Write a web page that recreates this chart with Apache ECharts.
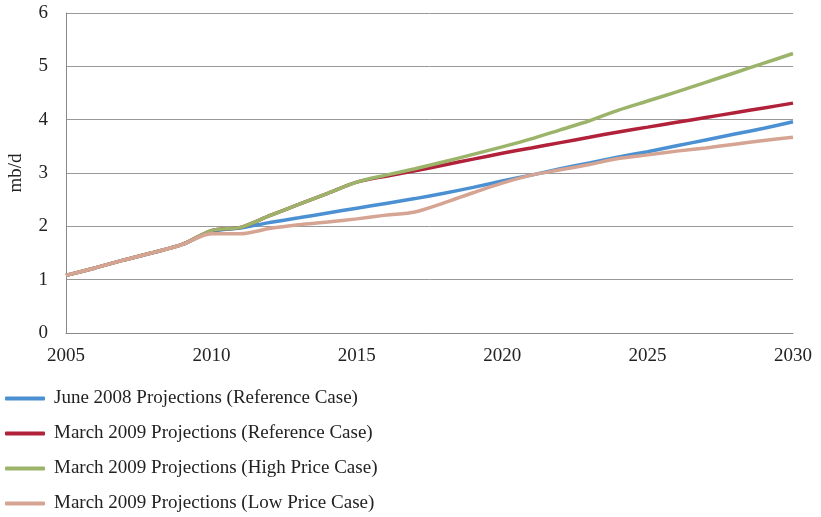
<!DOCTYPE html>
<html>
<head>
<meta charset="utf-8">
<script src="https://cdn.jsdelivr.net/npm/echarts@6/dist/echarts.min.js"></script>
<style>
  html, body { margin: 0; padding: 0; background: #fff; }
  #chart { width: 821px; height: 517px; }
</style>
</head>
<body>
<div id="chart"></div>
<script>
var years = [2005, 2006, 2007, 2008, 2009, 2010, 2011, 2012, 2013, 2014, 2015, 2016, 2017,
  2018, 2019, 2020, 2021, 2022, 2023, 2024, 2025, 2026, 2027, 2028, 2029, 2030];

var june2008Ref = [1.08, 1.22, 1.37, 1.51, 1.66, 1.90, 1.97, 2.07, 2.16, 2.25, 2.34, 2.43, 2.52,
  2.62, 2.73, 2.85, 2.96, 3.08, 3.19, 3.30, 3.40, 3.51, 3.62, 3.73, 3.84, 3.96];
var march2009Ref = [1.08, 1.22, 1.37, 1.51, 1.66, 1.92, 1.98, 2.20, 2.41, 2.62, 2.83, 2.94, 3.04,
  3.15, 3.26, 3.37, 3.47, 3.57, 3.67, 3.77, 3.86, 3.95, 4.04, 4.13, 4.22, 4.31];
var march2009High = [1.08, 1.22, 1.37, 1.51, 1.66, 1.92, 1.98, 2.20, 2.41, 2.62, 2.83, 2.96, 3.08,
  3.21, 3.35, 3.49, 3.64, 3.81, 3.98, 4.18, 4.35, 4.52, 4.70, 4.88, 5.06, 5.24];
var march2009Low = [1.08, 1.22, 1.37, 1.51, 1.66, 1.86, 1.86, 1.96, 2.03, 2.08, 2.14, 2.21, 2.27,
  2.44, 2.63, 2.81, 2.96, 3.06, 3.16, 3.27, 3.34, 3.41, 3.47, 3.54, 3.61, 3.67];

var seriesNames = [
  'June 2008 Projections (Reference Case)',
  'March 2009 Projections (Reference Case)',
  'March 2009 Projections (High Price Case)',
  'March 2009 Projections (Low Price Case)'
];
var seriesData = [june2008Ref, march2009Ref, march2009High, march2009Low];
var colors = ['#4A90D2', '#B2213A', '#9CB46A', '#D6A493'];

function pairs(vals) {
  return vals.map(function (v, i) { return [years[i], v]; });
}

var font = '"Liberation Serif", "DejaVu Serif", serif';
var chart = echarts.init(document.getElementById('chart'));

var option = {
  animation: false,
  textStyle: { fontFamily: font },
  grid: { left: 66, right: 28, top: 13, bottom: 184, outerBoundsMode: 'none', containLabel: false },
  legend: {
    orient: 'vertical',
    left: 5,
    top: 389,
    padding: 0,
    itemGap: 16,
    itemWidth: 40,
    itemHeight: 4,
    icon: 'roundRect',
    textStyle: { fontFamily: font, fontSize: 19, color: '#222', padding: [0, 0, 0, 4] },
    data: seriesNames
  },
  xAxis: {
    type: 'value',
    min: 2005,
    max: 2030,
    interval: 5,
    axisLine: { lineStyle: { color: '#888' } },
    axisTick: { show: false },
    splitLine: { show: false },
    axisLabel: {
      fontFamily: font, fontSize: 19, color: '#222', margin: 14,
      formatter: function (v) { return String(v); }
    }
  },
  yAxis: {
    type: 'value',
    min: 0,
    max: 6,
    interval: 1,
    name: 'mb/d',
    nameLocation: 'middle',
    nameGap: 40,
    nameTextStyle: { fontFamily: font, fontSize: 19, color: '#222' },
    axisLine: { show: true, lineStyle: { color: '#888' } },
    axisTick: { show: false },
    splitLine: { lineStyle: { color: '#999' } },
    axisLabel: { fontFamily: font, fontSize: 19, color: '#222', margin: 18 }
  },
  series: seriesData.map(function (d, i) {
    return {
      name: seriesNames[i],
      type: 'line',
      data: pairs(d),
      smooth: 0.3,
      showSymbol: false,
      color: colors[i],
      lineStyle: { width: 3.5, color: colors[i] }
    };
  })
};
chart.setOption(option);
</script>
</body>
</html>
